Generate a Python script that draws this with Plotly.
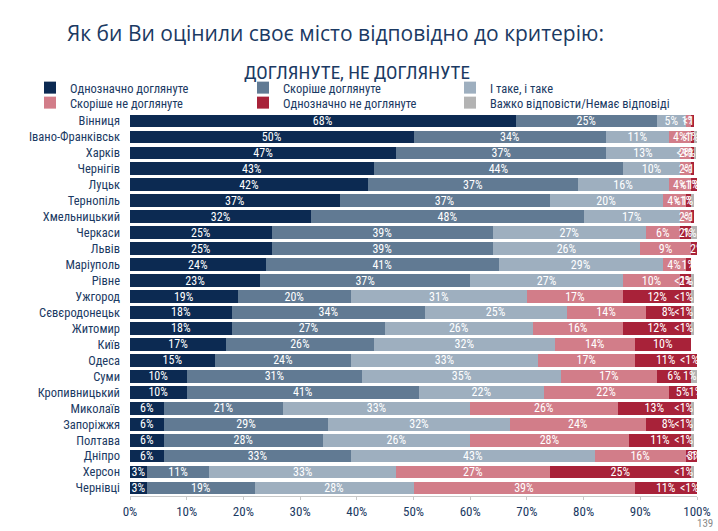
import plotly.graph_objects as go

cities = ["Вінниця", "Івано-Франківськ", "Харків", "Чернігів", "Луцьк", "Тернопіль",
          "Хмельницький", "Черкаси", "Львів", "Маріуполь", "Рівне", "Ужгород",
          "Сєвєродонецьк", "Житомир", "Київ", "Одеса", "Суми", "Кропивницький",
          "Миколаїв", "Запоріжжя", "Полтава", "Дніпро", "Херсон", "Чернівці"]

series_names = ["Однозначно доглянуте", "Скоріше доглянуте", "І таке, і таке",
                "Скоріше не доглянуте", "Однозначно не доглянуте",
                "Важко відповісти/Немає відповіді"]

# 0.4 stands for "<1%"
s_def_yes = [68, 50, 47, 43, 42, 37, 32, 25, 25, 24, 23, 19, 18, 18, 17, 15, 10, 10, 6, 6, 6, 6, 3, 3]
s_rather_yes = [25, 34, 37, 44, 37, 37, 48, 39, 39, 41, 37, 20, 34, 27, 26, 24, 31, 41, 21, 29, 28, 33, 11, 19]
s_mixed = [5, 11, 13, 10, 16, 20, 17, 27, 26, 29, 27, 31, 25, 26, 32, 33, 35, 22, 33, 32, 26, 43, 33, 28]
s_rather_no = [1, 4, 2, 2, 4, 4, 2, 6, 9, 4, 10, 17, 14, 16, 14, 17, 17, 22, 26, 24, 28, 16, 27, 39]
s_def_no = [0.4, 0.4, 0.4, 0.4, 1, 1, 0.4, 2, 2, 1, 2, 12, 8, 12, 10, 11, 6, 5, 13, 8, 11, 3, 25, 11]
s_hard = [0, 1, 0.4, 0, 0.4, 0.4, 0, 1, 0, 0, 0.4, 0.4, 0.4, 0.4, 0, 0.4, 1, 1, 0.4, 0.4, 0.4, 0.4, 0.4, 0.4]

x_ticks = [0, 10, 20, 30, 40, 50, 60, 70, 80, 90, 100]
x_tick_labels = ["0%", "10%", "20%", "30%", "40%", "50%", "60%", "70%", "80%", "90%", "100%"]

colors = ["#0c2a52", "#617a93", "#9eafbf", "#d27d89", "#a82239", "#b3b3b3"]
legend_ids = ["legend", "legend2", "legend3", "legend4", "legend5", "legend6"]
text_anchor = ["middle", "middle", "middle", "middle", "middle", "end"]

all_series = [s_def_yes, s_rather_yes, s_mixed, s_rather_no, s_def_no, s_hard]

FONT = "Liberation Sans Narrow, Roboto Condensed, Arial Narrow, Roboto, sans-serif"
NAVY = "#1b3a63"


def lab(v):
    if v == 0:
        return ""
    if v < 1:
        return "<1%"
    return f"{v:g}%"


fig = go.Figure()
for name, vals, col, lg, anc in zip(series_names, all_series, colors, legend_ids, text_anchor):
    fig.add_trace(go.Bar(
        y=cities, x=vals, name=name, orientation="h",
        marker=dict(color=col, line=dict(width=0)),
        text=[lab(v) for v in vals], textposition="inside",
        insidetextanchor=anc, textangle=0,
        textfont=dict(color="white", size=12, family=FONT),
        hoverinfo="skip", legend=lg,
    ))


def legend_at(px_left, px_top):
    return dict(
        orientation="v", xref="container", yref="container",
        x=px_left / 718, y=1 - px_top / 531, xanchor="left", yanchor="top",
        font=dict(size=12.5, family=FONT, color=NAVY),
        itemwidth=30, traceorder="normal", bgcolor="rgba(0,0,0,0)",
        tracegroupgap=0,
    )


fig.update_layout(
    barmode="stack", bargap=0.2,
    width=718, height=531,
    margin=dict(l=130, r=21, t=113, b=35, autoexpand=False),
    paper_bgcolor="white", plot_bgcolor="white",
    font=dict(family=FONT, color=NAVY),
    uniformtext=dict(minsize=12, mode="show"),
    showlegend=True,
    legend=legend_at(30, 73),
    legend2=legend_at(243, 73),
    legend3=legend_at(450, 73),
    legend4=legend_at(30, 88),
    legend5=legend_at(243, 88),
    legend6=legend_at(450, 88),
    xaxis=dict(
        range=[0, 100], tickvals=x_ticks, ticktext=x_tick_labels,
        showgrid=False, zeroline=False,
        showline=True, linecolor="#c8c8c8", linewidth=1,
        ticks="outside", ticklen=3, tickcolor="#c8c8c8",
        tickfont=dict(size=13, family=FONT, color=NAVY), fixedrange=True,
    ),
    yaxis=dict(
        autorange="reversed", showgrid=False, zeroline=False,
        showline=False, ticks="",
        tickmode="array", tickvals=cities, ticktext=cities,
        tickfont=dict(size=12.5, family=FONT, color=NAVY),
        ticklabelstandoff=9,
    ),
    annotations=[
        dict(text="Як би Ви оцінили своє місто відповідно до критерію:",
             xref="paper", yref="paper", x=(335 - 130) / 567, y=1 + (113 - 33) / 383,
             showarrow=False, xanchor="center", yanchor="middle",
             font=dict(size=21, family="Open Sans, DejaVu Sans, sans-serif", color=NAVY)),
        dict(text="ДОГЛЯНУТЕ, НЕ ДОГЛЯНУТЕ",
             xref="paper", yref="paper", x=(357 - 130) / 567, y=1 + (113 - 72) / 383,
             showarrow=False, xanchor="center", yanchor="middle",
             font=dict(size=19, family=FONT, color=NAVY)),
        dict(text="139", xref="paper", yref="paper",
             x=(705 - 130) / 567, y=-(523 - 496) / 383,
             showarrow=False, xanchor="center", yanchor="middle",
             font=dict(size=11, family=FONT, color="#8a8a8a")),
    ],
)

fig.write_html("out.html")
